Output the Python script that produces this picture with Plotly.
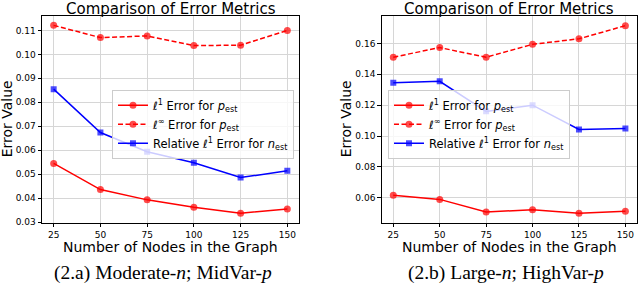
import plotly.graph_objects as go

nodes = [25, 50, 75, 100, 125, 150]

# Panel (2.a)
a_l1 = [0.0545, 0.0436, 0.0393, 0.0362, 0.0337, 0.0355]
a_linf = [0.1121, 0.1070, 0.1077, 0.1037, 0.1038, 0.1100]
a_rel = [0.0855, 0.0674, 0.0594, 0.0548, 0.0486, 0.0514]

# Panel (2.b)
b_l1 = [0.0617, 0.0590, 0.0509, 0.0523, 0.0500, 0.0514]
b_linf = [0.1511, 0.1573, 0.1511, 0.1594, 0.1630, 0.1715]
b_rel = [0.1346, 0.1355, 0.1160, 0.1200, 0.1043, 0.1049]

labels = ["ℓ<sup>1</sup> Error for <i>p</i><sub>est</sub>",
          "ℓ<sup>∞</sup> Error for <i>p</i><sub>est</sub>",
          "Relative ℓ<sup>1</sup> Error for <i>n</i><sub>est</sub>"]
titles = ["Comparison of Error Metrics", "Comparison of Error Metrics"]
captions = ["(2.a) Moderate-<i>n</i>; MidVar-<i>p</i>",
            "(2.b) Large-<i>n</i>; HighVar-<i>p</i>"]
xlabel = "Number of Nodes in the Graph"
ylabel = "Error Value"

RED = "rgba(255,0,0,1)"
BLUE = "rgba(0,0,255,1)"

fig = go.Figure()

panels = [
    dict(l1=a_l1, linf=a_linf, rel=a_rel, xa="x", ya="y", leg="legend"),
    dict(l1=b_l1, linf=b_linf, rel=b_rel, xa="x2", ya="y2", leg="legend2"),
]
for p in panels:
    fig.add_trace(go.Scatter(x=nodes, y=p["l1"], mode="lines+markers", name=labels[0],
                             line=dict(color=RED, width=1.5),
                             marker=dict(symbol="circle", size=7, color="rgba(255,0,0,0.7)"),
                             xaxis=p["xa"], yaxis=p["ya"], legend=p["leg"]))
    fig.add_trace(go.Scatter(x=nodes, y=p["linf"], mode="lines+markers", name=labels[1],
                             line=dict(color=RED, width=1.5, dash="5px,2.5px"),
                             marker=dict(symbol="circle", size=7, color="rgba(255,0,0,0.7)"),
                             xaxis=p["xa"], yaxis=p["ya"], legend=p["leg"]))
    fig.add_trace(go.Scatter(x=nodes, y=p["rel"], mode="lines+markers", name=labels[2],
                             line=dict(color=BLUE, width=1.5),
                             marker=dict(symbol="square", size=6, color="rgba(0,0,255,0.7)"),
                             xaxis=p["xa"], yaxis=p["ya"], legend=p["leg"]))

W, H = 640, 289
top = 1 - 16 / H
bot = 1 - 226 / H

axis_common = dict(showline=True, linecolor="black", linewidth=1, mirror=True,
                   ticks="outside", ticklen=3.5, tickcolor="black", tickwidth=1,
                   showgrid=True, gridcolor="#d6d6d6", gridwidth=1, zeroline=False,
                   tickfont=dict(family="DejaVu Sans", size=9, color="black"))

leg_common = dict(xanchor="left", yanchor="top",
                  bgcolor="rgba(255,255,255,0.8)", bordercolor="#cccccc", borderwidth=1,
                  font=dict(family="DejaVu Sans", size=11.5, color="black"),
                  tracegroupgap=0, itemwidth=30)

fig.update_layout(
    width=W, height=H,
    margin=dict(l=0, r=0, t=0, b=0),
    paper_bgcolor="white", plot_bgcolor="white",
    font=dict(family="DejaVu Sans", color="black"),
    xaxis=dict(domain=[42 / W, 299 / W], range=[18.75, 156.25], tickvals=nodes,
               anchor="y", **axis_common),
    yaxis=dict(domain=[bot, top], range=[0.0297, 0.1161], dtick=0.01, tickformat=".2f",
               anchor="x", **axis_common),
    xaxis2=dict(domain=[381.7 / W, 637 / W], range=[18.75, 156.25], tickvals=nodes,
                anchor="y2", **axis_common),
    yaxis2=dict(domain=[bot, top], range=[0.0438, 0.1779], dtick=0.02, tickformat=".2f",
                anchor="x2", **axis_common),
    legend=dict(x=112 / W, y=1 - 91 / H, **leg_common),
    legend2=dict(x=388 / W, y=1 - 91 / H, **leg_common),
    showlegend=True,
)

centers = [(42 + 299) / 2 / W, (381.7 + 637) / 2 / W]
ylab_x = [7 / W, 346 / W]
cap_x = [163 / W, 506 / W]
for i in range(2):
    fig.add_annotation(text=titles[i], x=centers[i], y=1 - 9 / H, xref="paper", yref="paper",
                       showarrow=False, xanchor="center", yanchor="middle",
                       font=dict(family="DejaVu Sans", size=15, color="black"))
    fig.add_annotation(text=xlabel, x=centers[i], y=1 - 250 / H, xref="paper", yref="paper",
                       showarrow=False, xanchor="center", yanchor="middle",
                       font=dict(family="DejaVu Sans", size=14, color="black"))
    fig.add_annotation(text=ylabel, x=ylab_x[i], y=(top + bot) / 2, xref="paper", yref="paper",
                       showarrow=False, xanchor="center", yanchor="middle", textangle=-90,
                       font=dict(family="DejaVu Sans", size=14, color="black"))
    fig.add_annotation(text=captions[i], x=cap_x[i], y=1 - 277 / H, xref="paper", yref="paper",
                       showarrow=False, xanchor="center", yanchor="middle",
                       font=dict(family="Liberation Serif", size=19.5, color="black"))

fig.write_html("out.html", config={"displayModeBar": False},
               post_script="document.body.style.margin='0';document.body.style.padding='0';")
